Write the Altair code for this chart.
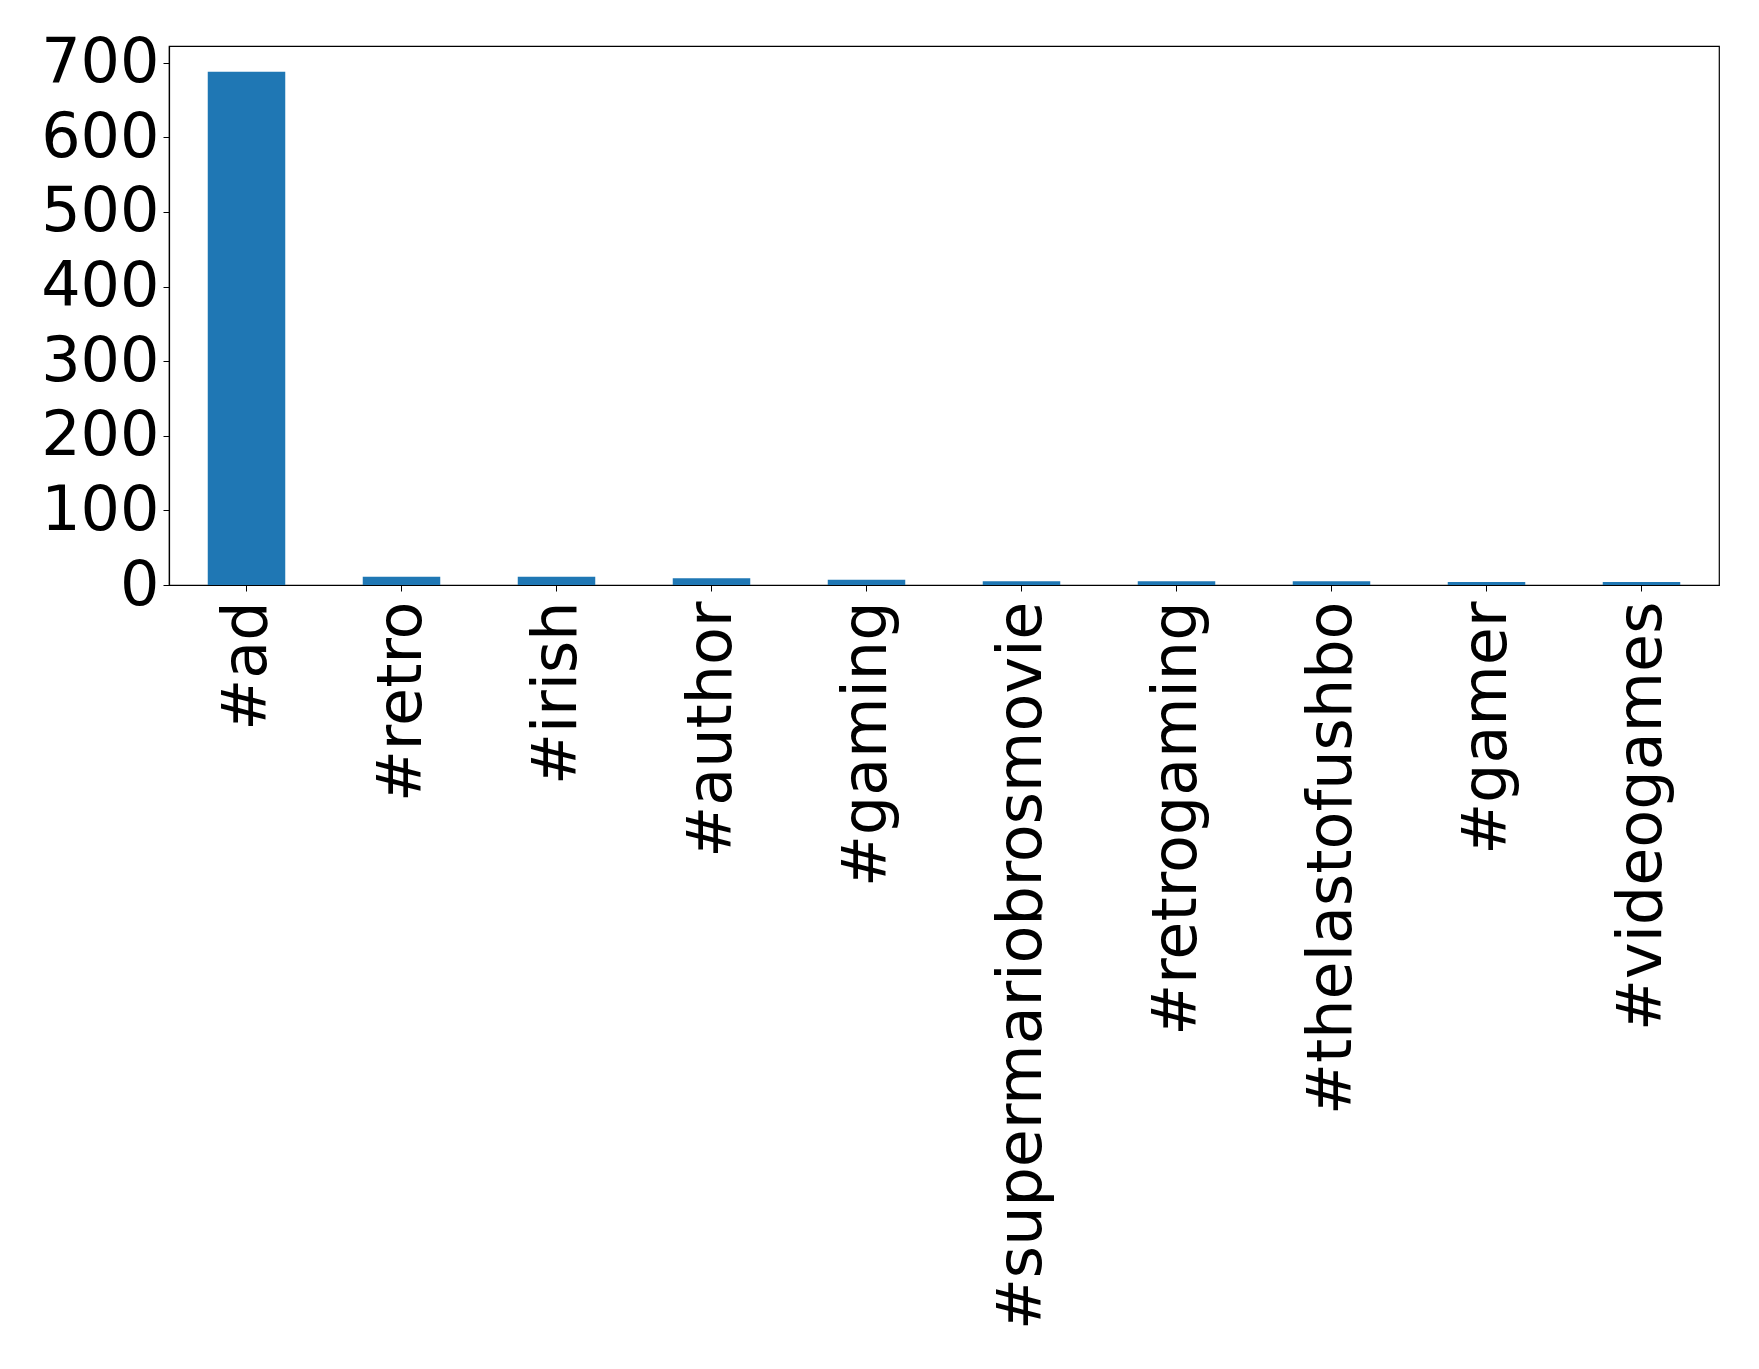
import altair as alt
import pandas as pd

tags = ["#ad", "#retro", "#irish", "#author", "#gaming", "#supermariobrosmovie",
        "#retrogaming", "#thelastofushbo", "#gamer", "#videogames"]
counts = [688, 11, 11, 9, 7, 5, 5, 5, 4, 4]

df = pd.DataFrame({"tag": tags, "count": counts})

font = "DejaVu Sans"
fs = 62
chart = alt.Chart(df).mark_bar(color="#1f77b4").encode(
    x=alt.X("tag:N", sort=tags, title=None,
            scale=alt.Scale(paddingInner=0.5, paddingOuter=0.25),
            axis=alt.Axis(labelAngle=270, labelFontSize=fs, labelFont=font,
                          labelColor="black", tickColor="black", domainColor="black",
                          tickSize=6, labelPadding=10, labelLimit=2000, domainWidth=1.2)),
    y=alt.Y("count:Q", title=None,
            scale=alt.Scale(domain=[0, 722.4], nice=False),
            axis=alt.Axis(values=[0, 100, 200, 300, 400, 500, 600, 700], grid=False,
                          labelFontSize=fs, labelFont=font, labelColor="black",
                          tickColor="black", domainColor="black", tickSize=6,
                          labelPadding=4, domainWidth=1.2)),
).properties(
    width=1550, height=539,
    autosize=alt.AutoSizeParams(type="none"),
    padding={"left": 161, "top": 38, "right": 30, "bottom": 770},
    background="white",
).configure_view(stroke="black", strokeWidth=1.2)

chart.save("out.html", embed_options={"renderer": "svg", "actions": False})
